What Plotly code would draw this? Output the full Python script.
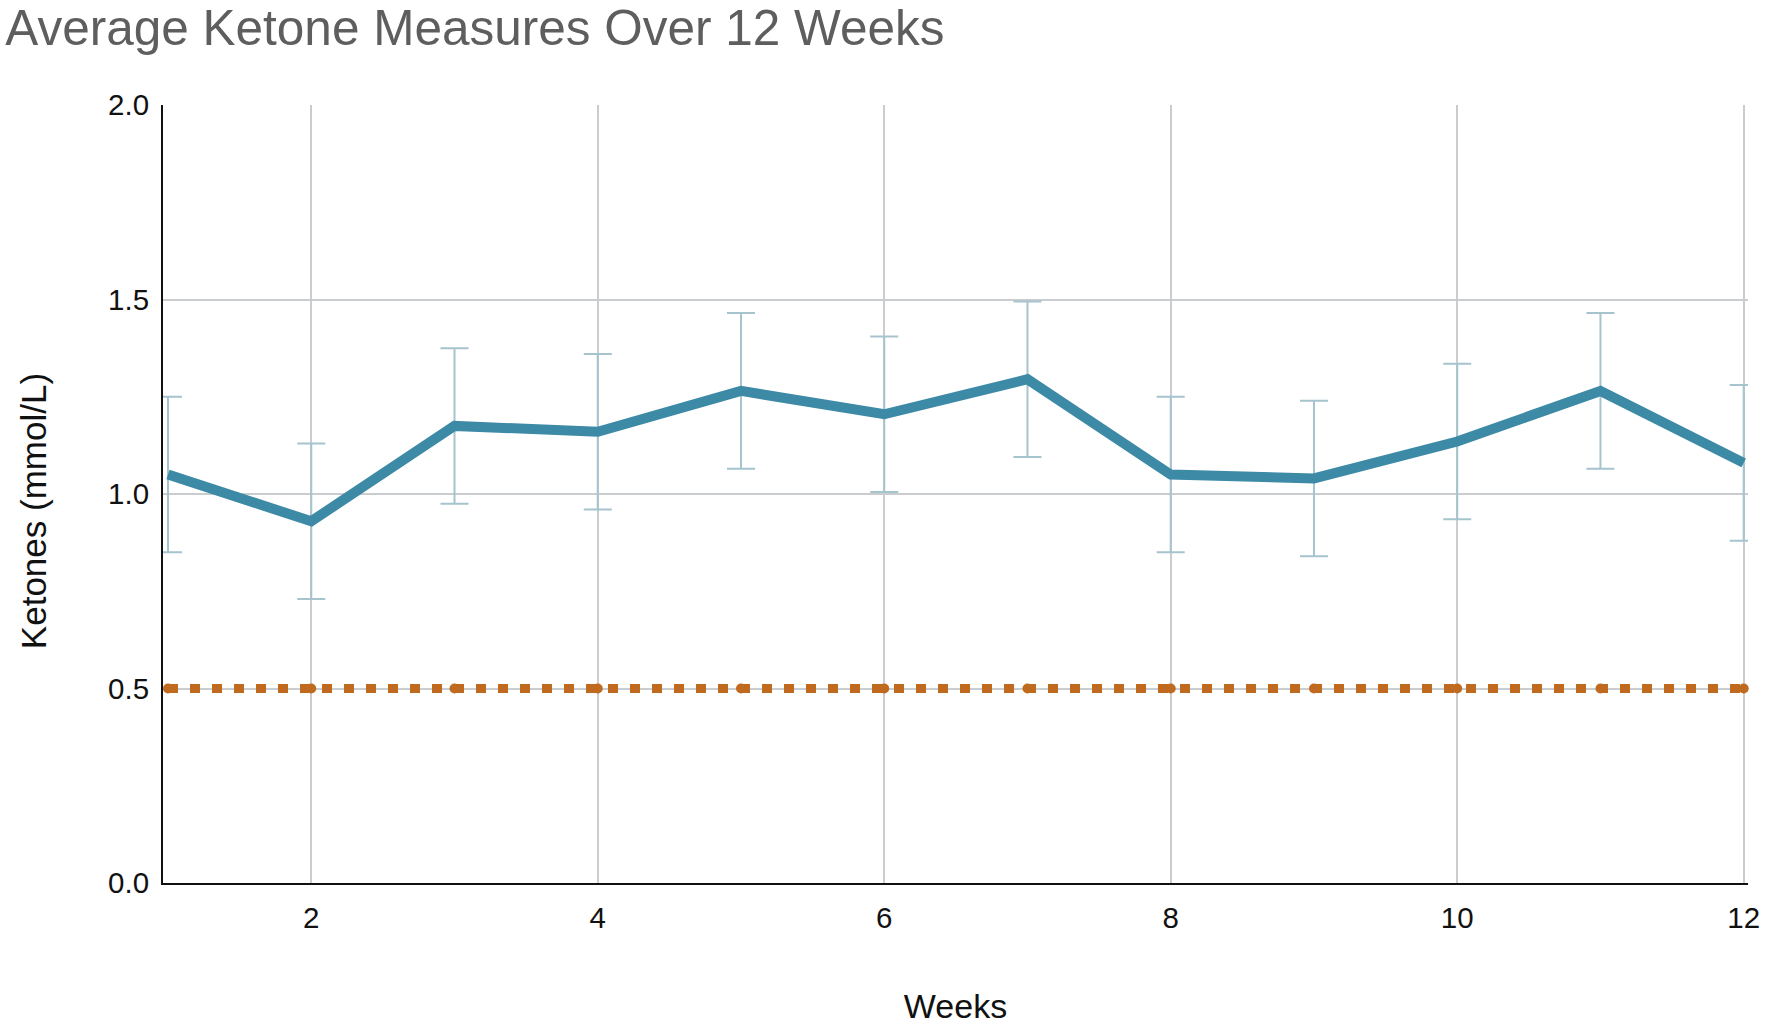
import plotly.graph_objects as go

# weekly averages
weeks = [1, 2, 3, 4, 5, 6, 7, 8, 9, 10, 11, 12]
ketones = [1.05, 0.93, 1.175, 1.16, 1.265, 1.205, 1.295, 1.05, 1.04, 1.135, 1.265, 1.08]
ketone_err = [0.2, 0.2, 0.2, 0.2, 0.2, 0.2, 0.2, 0.2, 0.2, 0.2, 0.2, 0.2]
threshold = [0.5, 0.5, 0.5, 0.5, 0.5, 0.5, 0.5, 0.5, 0.5, 0.5, 0.5, 0.5]

x_ticks = [2, 4, 6, 8, 10, 12]
y_ticks = [0.0, 0.5, 1.0, 1.5, 2.0]

FONT = "Arial, Liberation Sans, sans-serif"

fig = go.Figure()

# ketosis threshold, dotted orange
fig.add_trace(go.Scatter(
    x=weeks, y=threshold, mode='lines+markers',
    line=dict(color='#c06a20', width=9, dash='10px,12px'),
    marker=dict(color='#c06a20', size=10, symbol='circle'),
    showlegend=False, cliponaxis=False,
))

# average ketones with error bars
fig.add_trace(go.Scatter(
    x=weeks, y=ketones, mode='lines',
    line=dict(color='#3c8aa6', width=10),
    error_y=dict(type='data', array=ketone_err, visible=True,
                 color='#a6c4ce', thickness=2, width=14),
    showlegend=False, cliponaxis=False,
))

# y title placed by hand: in the original it sits a bit below the axis centre
fig.add_annotation(
    text='Ketones (mmol/L)', textangle=-90,
    xref='paper', yref='paper', x=-0.082, y=0.478,
    xanchor='center', yanchor='middle', showarrow=False,
    font=dict(family=FONT, size=35, color='#111111'),
)

fig.update_layout(
    width=1772, height=1031,
    paper_bgcolor='white', plot_bgcolor='white',
    margin=dict(l=163, r=17, t=105, b=143),
    font=dict(family=FONT, size=29.5, color='#111111'),
    title=dict(text='Average Ketone Measures Over 12 Weeks',
               font=dict(family=FONT, size=49.5, color='#5e5e5e'),
               xref='container', x=0.003, xanchor='left',
               yref='container', y=0.973, yanchor='middle'),
    xaxis=dict(
        range=[0.965, 12.03], tickvals=x_ticks,
        showgrid=True, gridcolor='#c9cdcf', gridwidth=2,
        showline=True, linecolor='#111111', linewidth=2,
        zeroline=False, ticks='', ticklabelstandoff=8,
        title=dict(text='Weeks', font=dict(size=34), standoff=61),
    ),
    yaxis=dict(
        range=[0, 2.0], tickvals=y_ticks, tickformat='.1f',
        showgrid=True, gridcolor='#c9cdcf', gridwidth=2,
        showline=True, linecolor='#111111', linewidth=2,
        zeroline=False, ticks='', ticklabelstandoff=6,
    ),
)

fig.write_html("out.html", config={'displayModeBar': False},
               post_script="document.body.style.margin='0';")
